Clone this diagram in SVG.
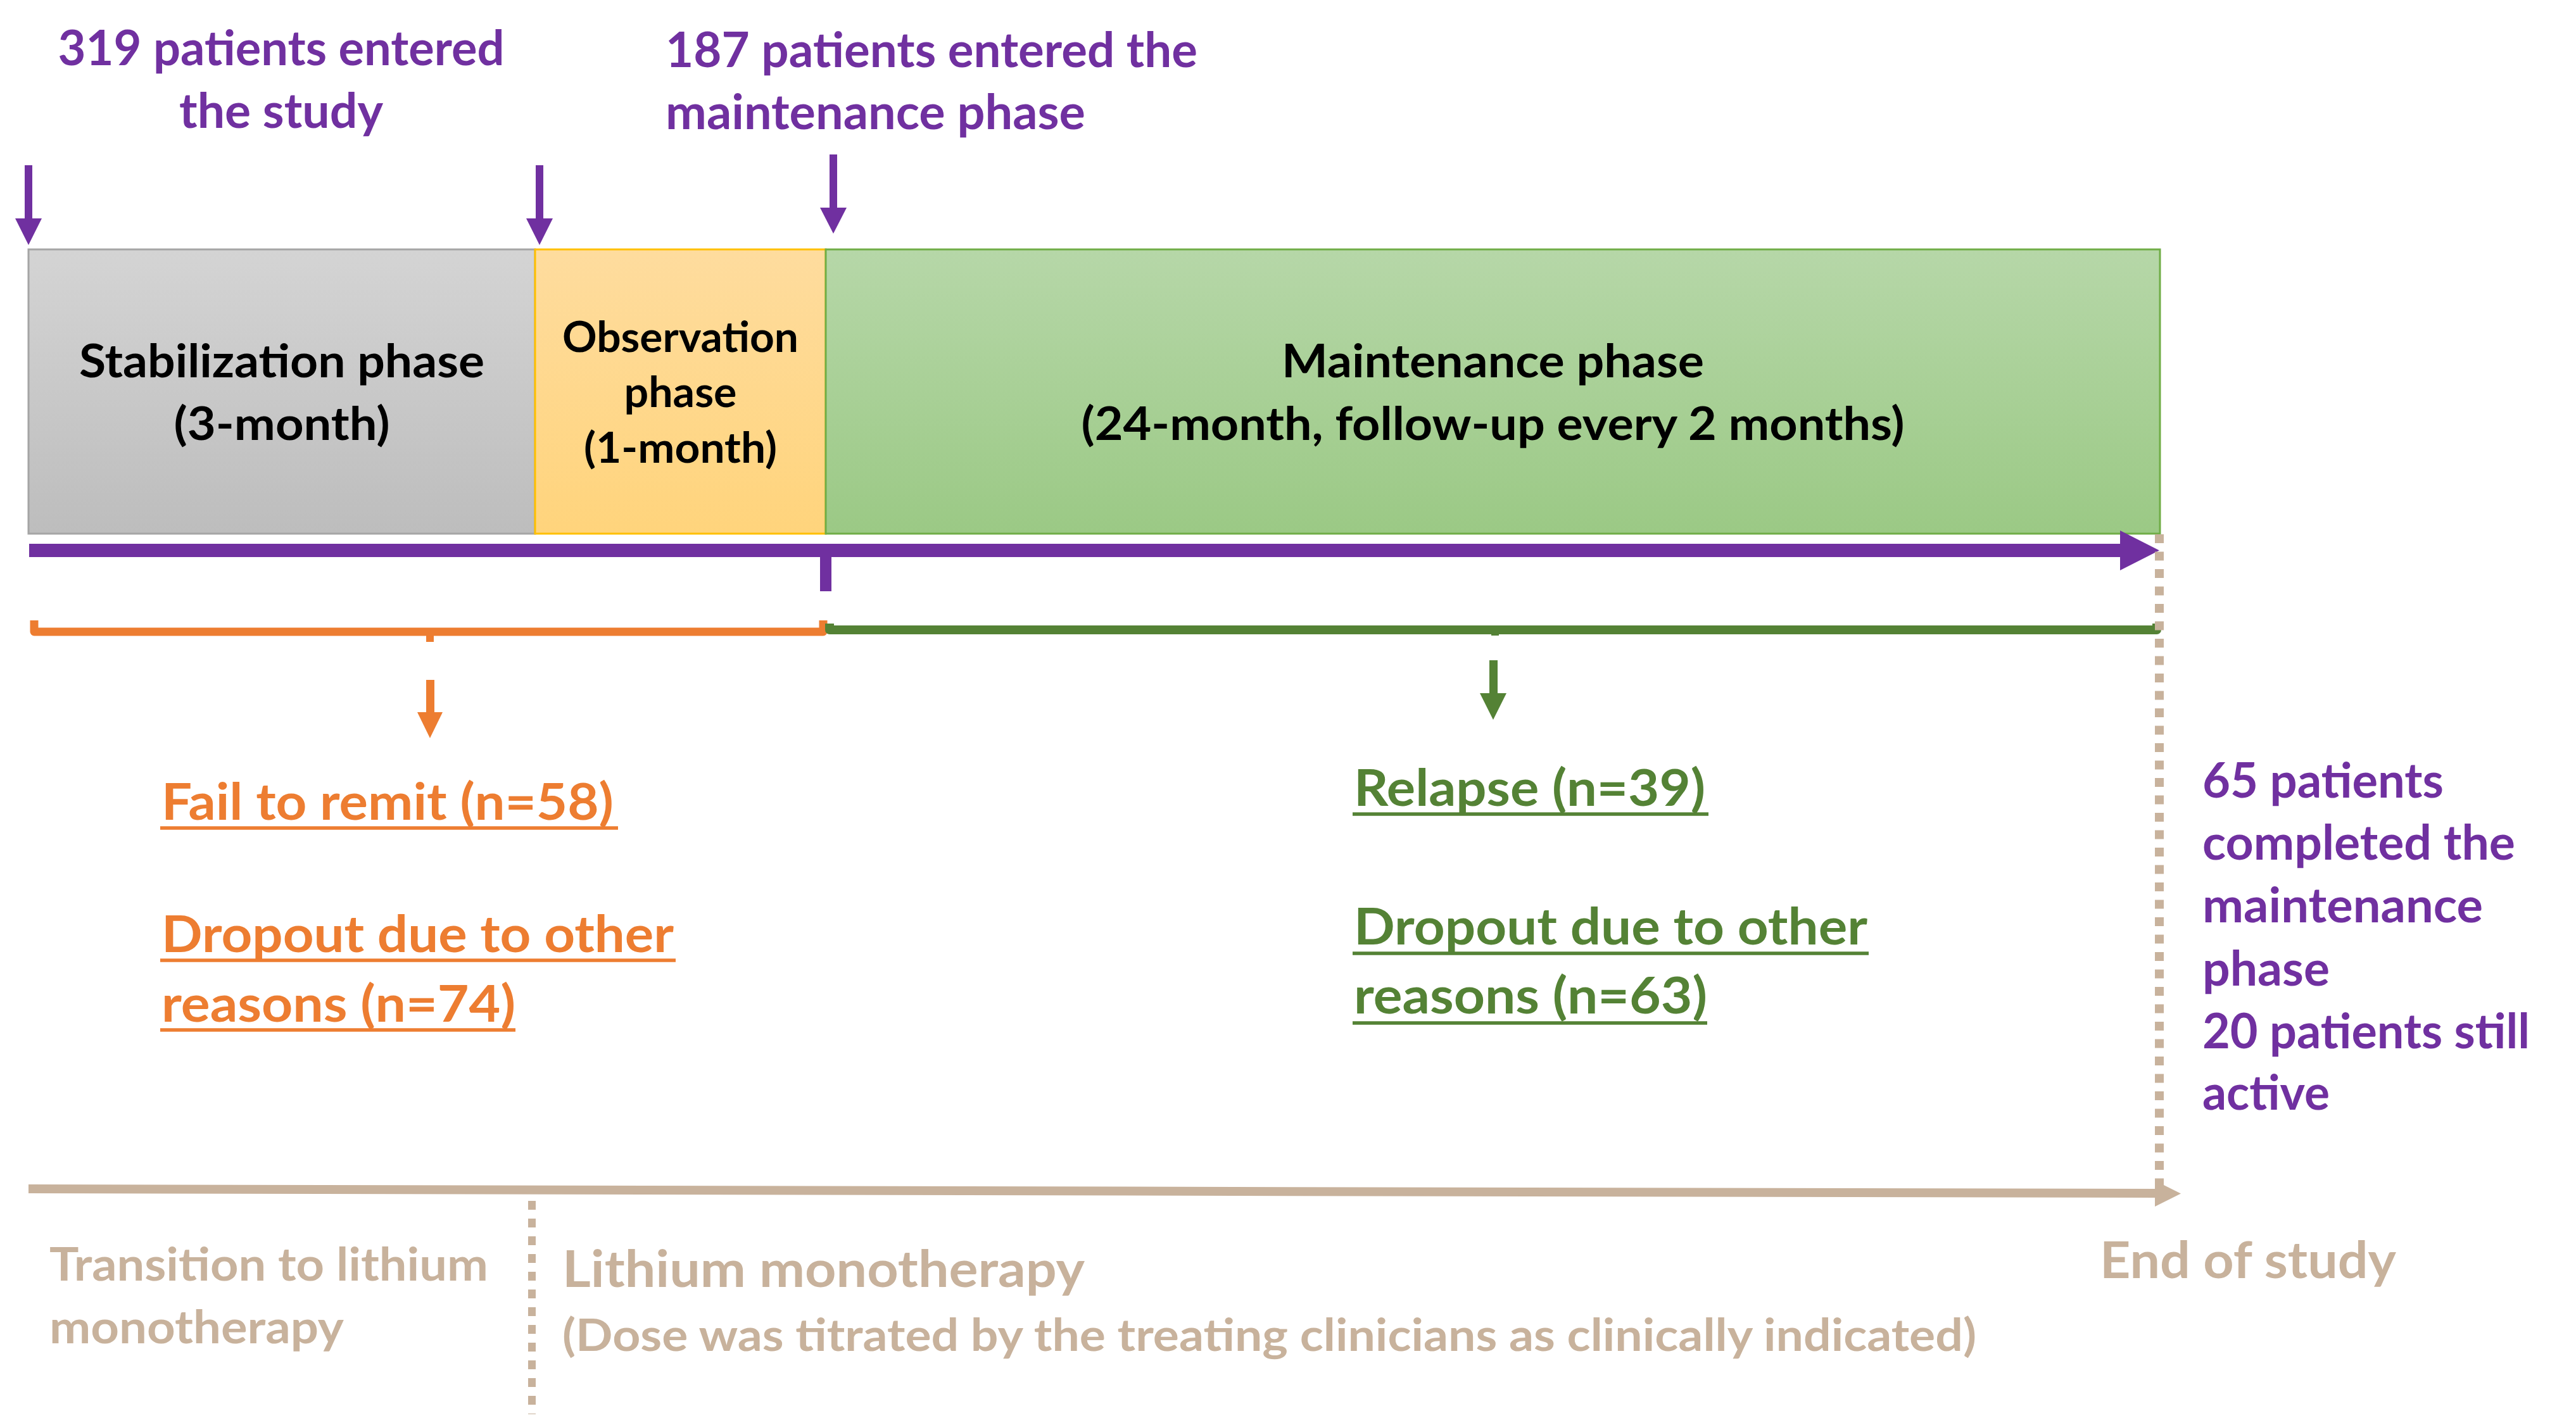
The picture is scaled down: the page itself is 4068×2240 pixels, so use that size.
<svg xmlns="http://www.w3.org/2000/svg" width="4068" height="2240" viewBox="0 0 4068 2240">
  <defs>
    <linearGradient id="gGray" x1="0" y1="0" x2="0" y2="1">
      <stop offset="0" stop-color="#D4D4D4"/>
      <stop offset="1" stop-color="#BDBDBD"/>
    </linearGradient>
    <linearGradient id="gOrange" x1="0" y1="0" x2="0" y2="1">
      <stop offset="0" stop-color="#FEDC9E"/>
      <stop offset="1" stop-color="#FFD47C"/>
    </linearGradient>
    <linearGradient id="gGreen" x1="0" y1="0" x2="0" y2="1">
      <stop offset="0" stop-color="#B6D7A8"/>
      <stop offset="1" stop-color="#9BC985"/>
    </linearGradient>
    <style>
      text { font-family: Lato, Carlito, "Liberation Sans", sans-serif; font-weight: bold; }
      .purple { fill: #7030A0; }
      .orange { fill: #ED7D31; }
      .green { fill: #548235; }
      .tan { fill: #C8B29C; }
      .black { fill: #000000; }
      .top { font-size: 76px; }
      .phase { font-size: 73px; }
      .obs { font-size: 67px; }
      .res { font-size: 81px; }
      .side { font-size: 76px; }
      .ul-o { stroke: #ED7D31; stroke-width: 5.5; }
      .ul-g { stroke: #548235; stroke-width: 5.5; }
    </style>
  </defs>
  <rect width="4068" height="2240" fill="#FFFFFF"/>

  <g id="stabilization">
    <rect x="45" y="394" width="800" height="449" fill="url(#gGray)" stroke="#A5A5A5" stroke-width="3"/>
    <text class="phase black" x="445" y="596" text-anchor="middle" textLength="640" lengthAdjust="spacingAndGlyphs">Stabilization phase</text>
    <text class="phase black" x="445" y="695" text-anchor="middle" textLength="341" lengthAdjust="spacingAndGlyphs">(3-month)</text>
  </g>

  <g id="observation">
    <rect x="845" y="394" width="459" height="449" fill="url(#gOrange)" stroke="#FFC000" stroke-width="3"/>
    <text class="obs black" x="1074.5" y="556" text-anchor="middle" textLength="373" lengthAdjust="spacingAndGlyphs">Observation</text>
    <text class="obs black" x="1074.5" y="643" text-anchor="middle" textLength="178" lengthAdjust="spacingAndGlyphs">phase</text>
    <text class="obs black" x="1074.5" y="731" text-anchor="middle" textLength="305" lengthAdjust="spacingAndGlyphs">(1-month)</text>
  </g>

  <g id="maintenance">
    <rect x="1304" y="394" width="2107" height="449" fill="url(#gGreen)" stroke="#70AD47" stroke-width="3"/>
    <text class="phase black" x="2357.5" y="596" text-anchor="middle" textLength="667" lengthAdjust="spacingAndGlyphs">Maintenance phase</text>
    <text class="phase black" x="2357.5" y="695" text-anchor="middle" textLength="1300" lengthAdjust="spacingAndGlyphs">(24-month, follow-up every 2 months)</text>
  </g>

  <g id="label-entered-study">
    <text class="top purple" x="444" y="103" text-anchor="middle" textLength="705" lengthAdjust="spacingAndGlyphs">319 patients entered</text>
    <text class="top purple" x="444" y="202" text-anchor="middle" textLength="322" lengthAdjust="spacingAndGlyphs">the study</text>
  </g>

  <g id="label-entered-maintenance">
    <text class="top purple" x="1051" y="106" textLength="840" lengthAdjust="spacingAndGlyphs">187 patients entered the</text>
    <text class="top purple" x="1051" y="204" textLength="663" lengthAdjust="spacingAndGlyphs">maintenance phase</text>
  </g>

  <g id="result-stabilization">
    <text class="res orange" x="255" y="1295" textLength="714" lengthAdjust="spacingAndGlyphs">Fail to remit (n=58)</text>
    <line class="ul-o" x1="253" y1="1308" x2="976" y2="1308"/>
    <text class="res orange" x="255" y="1504" textLength="809" lengthAdjust="spacingAndGlyphs">Dropout due to other</text>
    <line class="ul-o" x1="253" y1="1517" x2="1067" y2="1517"/>
    <text class="res orange" x="255" y="1614" textLength="559" lengthAdjust="spacingAndGlyphs">reasons (n=74)</text>
    <line class="ul-o" x1="253" y1="1627" x2="814" y2="1627"/>
  </g>

  <g id="result-maintenance">
    <text class="res green" x="2138" y="1273" textLength="555" lengthAdjust="spacingAndGlyphs">Relapse (n=39)</text>
    <line class="ul-g" x1="2136" y1="1286" x2="2698" y2="1286"/>
    <text class="res green" x="2138" y="1492" textLength="811" lengthAdjust="spacingAndGlyphs">Dropout due to other</text>
    <line class="ul-g" x1="2136" y1="1506" x2="2951" y2="1506"/>
    <text class="res green" x="2138" y="1601" textLength="558" lengthAdjust="spacingAndGlyphs">reasons (n=63)</text>
    <line class="ul-g" x1="2136" y1="1616" x2="2696" y2="1616"/>
  </g>

  <g id="label-completed">
    <text class="side purple" x="3478" y="1260" textLength="381" lengthAdjust="spacingAndGlyphs">65 patients</text>
    <text class="side purple" x="3478" y="1358" textLength="494" lengthAdjust="spacingAndGlyphs">completed the</text>
    <text class="side purple" x="3478" y="1457" textLength="443" lengthAdjust="spacingAndGlyphs">maintenance</text>
    <text class="side purple" x="3478" y="1557" textLength="201" lengthAdjust="spacingAndGlyphs">phase</text>
    <text class="side purple" x="3478" y="1656" textLength="517" lengthAdjust="spacingAndGlyphs">20 patients still</text>
    <text class="side purple" x="3478" y="1753" textLength="201" lengthAdjust="spacingAndGlyphs">active</text>
  </g>

  <g id="label-transition">
    <text class="tan" x="78" y="2023" font-size="72" textLength="693" lengthAdjust="spacingAndGlyphs">Transition to lithium</text>
    <text class="tan" x="78" y="2122" font-size="72" textLength="465" lengthAdjust="spacingAndGlyphs">monotherapy</text>
  </g>

  <g id="label-monotherapy">
    <text class="tan" x="888" y="2033" font-size="80" textLength="825" lengthAdjust="spacingAndGlyphs">Lithium monotherapy</text>
    <text class="tan" x="888" y="2134" font-size="70" textLength="2233" lengthAdjust="spacingAndGlyphs">(Dose was titrated by the treating clinicians as clinically indicated)</text>
  </g>

  <g id="label-end">
    <text class="tan" x="3316" y="2019" font-size="80" textLength="468" lengthAdjust="spacingAndGlyphs">End of study</text>
  </g>

  <g id="connectors">
    <g fill="#7030A0">
      <rect x="39" y="261" width="12" height="86"/>
      <polygon points="24,345 66,345 45,387"/>
      <rect x="846" y="261" width="12" height="86"/>
      <polygon points="831,345 873,345 852,387"/>
      <rect x="1310" y="244" width="12" height="86"/>
      <polygon points="1295,328 1337,328 1316,369"/>
      <rect x="46" y="859" width="3303" height="21"/>
      <polygon points="3348,838 3410,869.5 3348,901"/>
      <rect x="1295" y="879" width="18" height="55"/>
    </g>

    <path d="M54,980 V998 H1300 V980" fill="none" stroke="#ED7D31" stroke-width="13" stroke-linejoin="round"/>
    <rect x="673" y="998" width="12" height="16" fill="#ED7D31"/>
    <path d="M1310,985 V995 H3406 V985" fill="none" stroke="#548235" stroke-width="14" stroke-linejoin="round"/>
    <rect x="2355" y="995" width="12" height="9" fill="#548235"/>

    <rect x="673" y="1074" width="13" height="53" fill="#ED7D31"/>
    <polygon points="659,1125 699,1125 679,1166" fill="#ED7D31"/>
    <rect x="2352" y="1043" width="13" height="54" fill="#548235"/>
    <polygon points="2337,1095 2379,1095 2358,1137" fill="#548235"/>

    <line x1="3410" y1="844" x2="3410" y2="1873" stroke="#C8B29C" stroke-width="14" stroke-dasharray="14 13.5"/>
    <line x1="840" y1="1897" x2="840" y2="2234" stroke="#C8B29C" stroke-width="12" stroke-dasharray="14 14"/>
    <line x1="45" y1="1878" x2="3405" y2="1885" stroke="#C8B29C" stroke-width="14"/>
    <polygon points="3403,1865 3444,1885.5 3403,1906" fill="#C8B29C"/>
  </g>
</svg>
